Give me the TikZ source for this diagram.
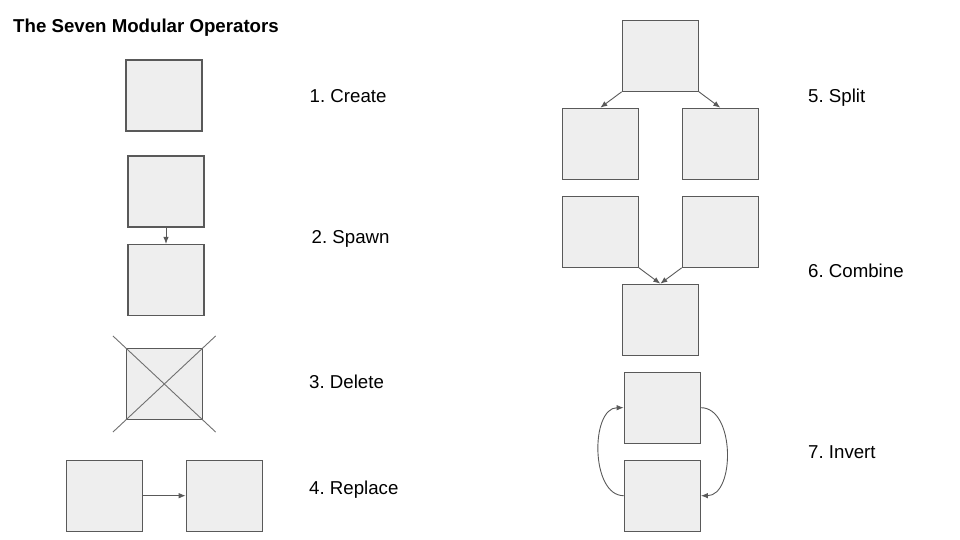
\documentclass[tikz,border=0pt]{standalone}
\usepackage{fontspec}
\setmainfont{Liberation Sans}
\usepackage{tikz}
\usetikzlibrary{positioning,arrows.meta}
\definecolor{boxfill}{HTML}{EEEEEE}
\definecolor{boxline}{HTML}{595959}
\definecolor{crossline}{HTML}{707070}
\frenchspacing

\begin{document}
\begin{tikzpicture}[x=1bp, y=1bp,
    opbox/.style={draw=boxline, fill=boxfill, line width=1.2bp, minimum width=76bp, minimum height=71bp, inner sep=0pt},
    conn/.style={draw=boxline, line width=0.9bp, -{Latex[length=7bp,width=5.5bp]}},
    oplabel/.style={anchor=base west, inner sep=0pt, font=\fontsize{18.67bp}{22bp}\selectfont}]

    \useasboundingbox (0,0) rectangle (960,-540);

    \node[anchor=base west, inner sep=0pt, font=\fontsize{18.67bp}{22bp}\selectfont\bfseries] (title) at (13,-33) {The Seven Modular Operators};

    \node[opbox] (create_a) at (164,-95.5) {};
    \node[oplabel] (create_lbl) at (309.5,-103) {1. Create};

    \node[opbox] (spawn_a) at (166,-191.5) {};
    \node[opbox, below of=spawn_a, node distance=88.5bp] (spawn_b) {};
    \node[oplabel] (spawn_lbl) at (311.5,-243.5) {2. Spawn};
    \draw[conn] (spawn_a) -- (spawn_b);

    \node[opbox] (delete_a) at (164.3,-384) {};
    \draw[crossline, line width=0.9bp, shorten <=-17.5bp, shorten >=-17.5bp] (delete_a.north west) -- (delete_a.south east);
    \draw[crossline, line width=0.9bp, shorten <=-17.5bp, shorten >=-17.5bp] (delete_a.north east) -- (delete_a.south west);
    \node[oplabel] (delete_lbl) at (309,-388) {3. Delete};

    \node[opbox] (replace_a) at (104.3,-495.7) {};
    \node[opbox, right of=replace_a, node distance=120bp] (replace_b) {};
    \node[oplabel] (replace_lbl) at (309,-494) {4. Replace};
    \draw[conn] (replace_a) -- (replace_b);

    \node[opbox] (split_a) at (660.3,-55.7) {};
    \node[opbox] (split_b) at (600.3,-143.8) {};
    \node[opbox, right of=split_b, node distance=120bp] (split_c) {};
    \node[oplabel] (split_lbl) at (808,-103) {5. Split};
    \draw[conn] (split_a.south west) -- (split_b.north);
    \draw[conn] (split_a.south east) -- (split_c.north);

    \node[opbox] (combine_a) at (600.3,-231.7) {};
    \node[opbox, right of=combine_a, node distance=120bp] (combine_b) {};
    \node[opbox] (combine_c) at (660.3,-319.8) {};
    \node[oplabel] (combine_lbl) at (808,-278) {6. Combine};
    \draw[conn] (combine_a.south east) -- (combine_c.north);
    \draw[conn] (combine_b.south west) -- (combine_c.north);

    \node[opbox] (invert_a) at (662.3,-407.7) {};
    \node[opbox, below of=invert_a, node distance=88bp] (invert_b) {};
    \node[oplabel] (invert_lbl) at (808,-458.5) {7. Invert};
    \draw[conn] (invert_b.west) to[out=180, in=180, looseness=0.97] (invert_a.west);
    \draw[conn] (invert_a.east) to[out=0, in=0, looseness=1] (invert_b.east);
\end{tikzpicture}
\end{document}
